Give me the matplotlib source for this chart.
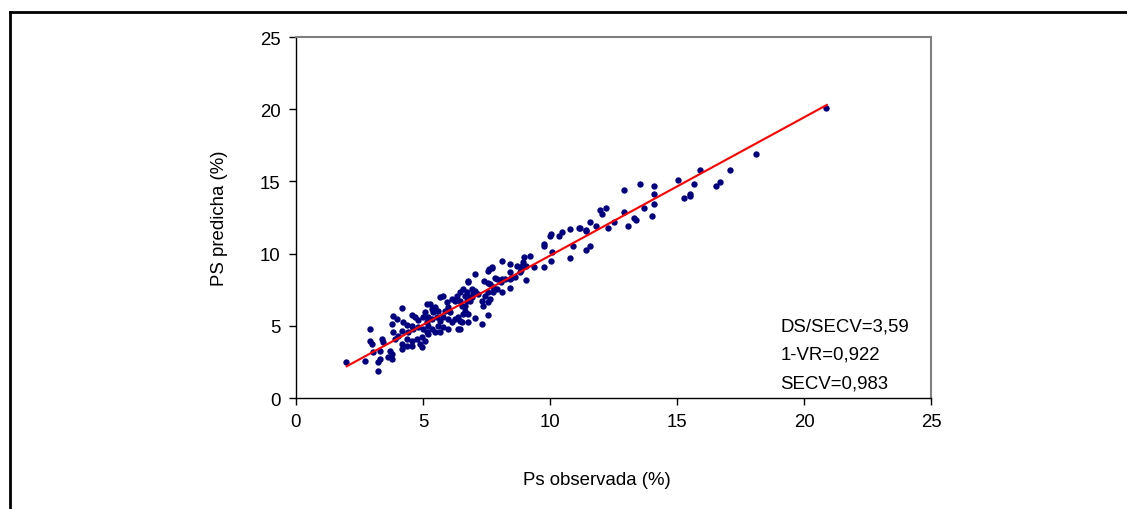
import matplotlib
matplotlib.use("Agg")
import matplotlib.pyplot as plt
from matplotlib.lines import Line2D


# DATA
# observed (x) and predicted (y) PS values, read off the picture
obs = [
    20.87, 18.12, 17.10, 16.69, 16.54, 15.92, 15.68, 15.52, 15.52, 15.29,
    15.05, 14.11, 14.11, 13.56, 12.91, 14.11, 13.71, 12.91, 14.02, 13.32,
    13.40, 13.08, 12.22, 11.98, 12.06, 12.53, 12.30, 11.59, 11.82, 11.43,
    11.18, 11.59, 11.43,
    11.42, 11.13, 10.79, 10.46, 10.37, 10.04, 10.00, 9.78, 9.78, 10.89,
    10.80, 10.09, 10.03, 9.76, 9.38, 9.21, 8.99, 8.95, 9.04, 8.88,
    8.69, 8.43, 8.86, 9.04, 8.46, 8.23,
    8.12, 8.82, 8.43, 8.62, 8.43, 8.12, 7.93, 8.43, 8.12, 7.73,
    7.57, 7.40, 7.57, 7.64, 7.77, 7.90, 7.57, 7.77, 7.44, 7.64,
    7.57, 7.31, 7.37, 7.18, 6.98, 6.78, 6.92, 7.05, 6.78, 6.65,
    6.72, 6.65, 6.65, 6.46, 6.52, 7.57, 7.31, 7.05, 6.78, 6.59,
    6.52, 6.46, 6.78,
    7.60, 7.70, 7.83, 8.07, 7.05, 6.76, 6.59, 6.72, 6.33, 6.46,
    6.13, 6.26, 6.85, 6.92, 6.39, 6.46, 5.67, 5.80, 5.93, 6.00,
    5.87, 6.06, 5.47, 5.60, 5.41, 5.28, 5.34, 5.08, 5.21, 5.34,
    5.54, 5.67, 5.80, 6.00, 6.13, 6.26, 5.60, 5.80, 6.00, 5.21,
    5.34, 5.47, 5.67, 6.39, 5.21,
    4.19, 3.83, 3.96, 3.77, 4.55, 4.69, 4.81, 5.15, 5.01, 5.17,
    4.22, 4.36, 4.55, 4.16, 4.42, 4.62, 4.81, 5.01, 5.15, 3.83,
    4.03, 3.90, 4.36, 4.55, 4.75, 4.95, 5.08, 4.16, 4.36, 4.55,
    4.16, 4.88, 4.95, 3.37, 3.44, 2.91, 2.91, 2.98, 3.31, 3.70,
    3.77, 3.63, 3.77, 3.31, 3.24, 3.04, 2.72, 1.97, 3.24,
]
pred = [
    20.10, 16.88, 15.77, 14.94, 14.66, 15.77, 14.80, 14.11, 13.97, 13.83,
    15.08, 14.66, 14.11, 14.80, 14.38, 13.41, 13.14, 12.86, 12.58, 12.44,
    12.31, 11.89, 13.14, 13.00, 12.72, 12.17, 11.75, 12.17, 11.89, 11.61,
    11.75, 10.51, 10.23,
    11.59, 11.75, 11.70, 11.47, 11.24, 11.36, 11.24, 10.66, 10.50, 10.55,
    9.67, 10.09, 9.51, 9.09, 9.09, 9.85, 9.74, 9.40, 9.16, 9.16,
    9.16, 9.28, 8.88, 8.17, 8.31, 8.24,
    9.51, 8.70, 8.70, 8.36, 8.24, 8.24, 8.24, 7.60, 7.32, 8.98,
    8.82, 8.12, 8.00, 7.89, 7.67, 7.55, 7.32, 7.32, 7.08, 6.86,
    6.67, 6.74, 6.39, 7.20, 7.20, 8.01, 7.55, 7.43, 6.97, 7.08,
    6.74, 6.39, 6.05, 6.74, 6.39, 5.75, 5.12, 5.52, 5.24, 5.82,
    5.24, 4.78, 5.82,
    8.93, 9.05, 8.31, 8.01, 8.59, 8.08, 7.55, 7.32, 7.08, 7.32,
    6.86, 6.74, 6.74, 6.97, 5.59, 5.35, 6.97, 7.08, 6.63, 6.28,
    6.05, 5.93, 6.28, 6.05, 5.93, 6.51, 6.16, 5.93, 5.59, 5.47,
    5.59, 5.35, 5.59, 5.47, 5.24, 5.47, 5.01, 4.90, 4.78, 5.01,
    4.78, 4.55, 4.55, 4.78, 4.43,
    6.21, 5.70, 5.47, 5.12, 5.75, 5.59, 5.42, 6.51, 5.59, 5.24,
    5.24, 5.06, 5.01, 4.66, 4.55, 4.78, 4.90, 4.78, 4.55, 4.55,
    4.31, 4.09, 4.09, 3.97, 4.09, 4.20, 3.97, 3.74, 3.62, 3.62,
    3.39, 3.74, 3.51, 4.09, 3.86, 4.78, 3.97, 3.74, 3.28, 3.28,
    3.05, 2.82, 2.70, 2.70, 2.51, 3.16, 2.58, 2.47, 1.89,
]

# fitted line end points
line_x = [2.0, 20.9]
line_y = [2.2, 20.3]

stats_text = ["DS/SECV=3,59", "1-VR=0,922", "SECV=0,983"]

x_ticks = [0, 5, 10, 15, 20, 25]
y_ticks = [0, 5, 10, 15, 20, 25]


def main():
    plt.rcParams['font.family'] = ['Liberation Sans', 'DejaVu Sans']
    fs = 13.4

    fig = plt.figure(figsize=(11.27, 5.10), dpi=100)
    ax = fig.add_axes([0.2626, 0.2176, 0.5635, 0.7078])

    ax.scatter(obs, pred, s=21, color='#000080', linewidths=0, zorder=3)
    ax.plot(line_x, line_y, color='#ff0000', lw=1.5, zorder=4)

    ax.set_xlim(0, 25)
    ax.set_ylim(0, 25)
    ax.set_xticks(x_ticks)
    ax.set_yticks(y_ticks)
    ax.tick_params(direction='out', length=5, width=1, labelsize=fs,
                   colors='black', pad=6)

    for side in ['top', 'right']:
        ax.spines[side].set_color('#808080')
        ax.spines[side].set_linewidth(1.5)
    for side in ['left', 'bottom']:
        ax.spines[side].set_color('black')
        ax.spines[side].set_linewidth(1)

    ax.set_xlabel("Ps observada (%)", fontsize=fs, labelpad=29)
    ax.set_ylabel("PS predicha (%)", fontsize=fs, labelpad=23)
    ax.xaxis.label.set_x(0.474)

    # stats in the lower right corner
    for i, t in enumerate(stats_text):
        ax.text(0.763, 0.2 - i * 0.079, t, transform=ax.transAxes,
                fontsize=fs, va='center', ha='left')

    # outer frame (only left and top edges show)
    fx = 9.5 / 1127
    fy = 1 - 12.5 / 510
    fig.add_artist(Line2D([fx, fx], [0, fy], transform=fig.transFigure,
                          color='black', lw=2))
    fig.add_artist(Line2D([fx, 1], [fy, fy], transform=fig.transFigure,
                          color='black', lw=2))

    fig.savefig("out.png", dpi=100)


if __name__ == '__main__':
    main()
